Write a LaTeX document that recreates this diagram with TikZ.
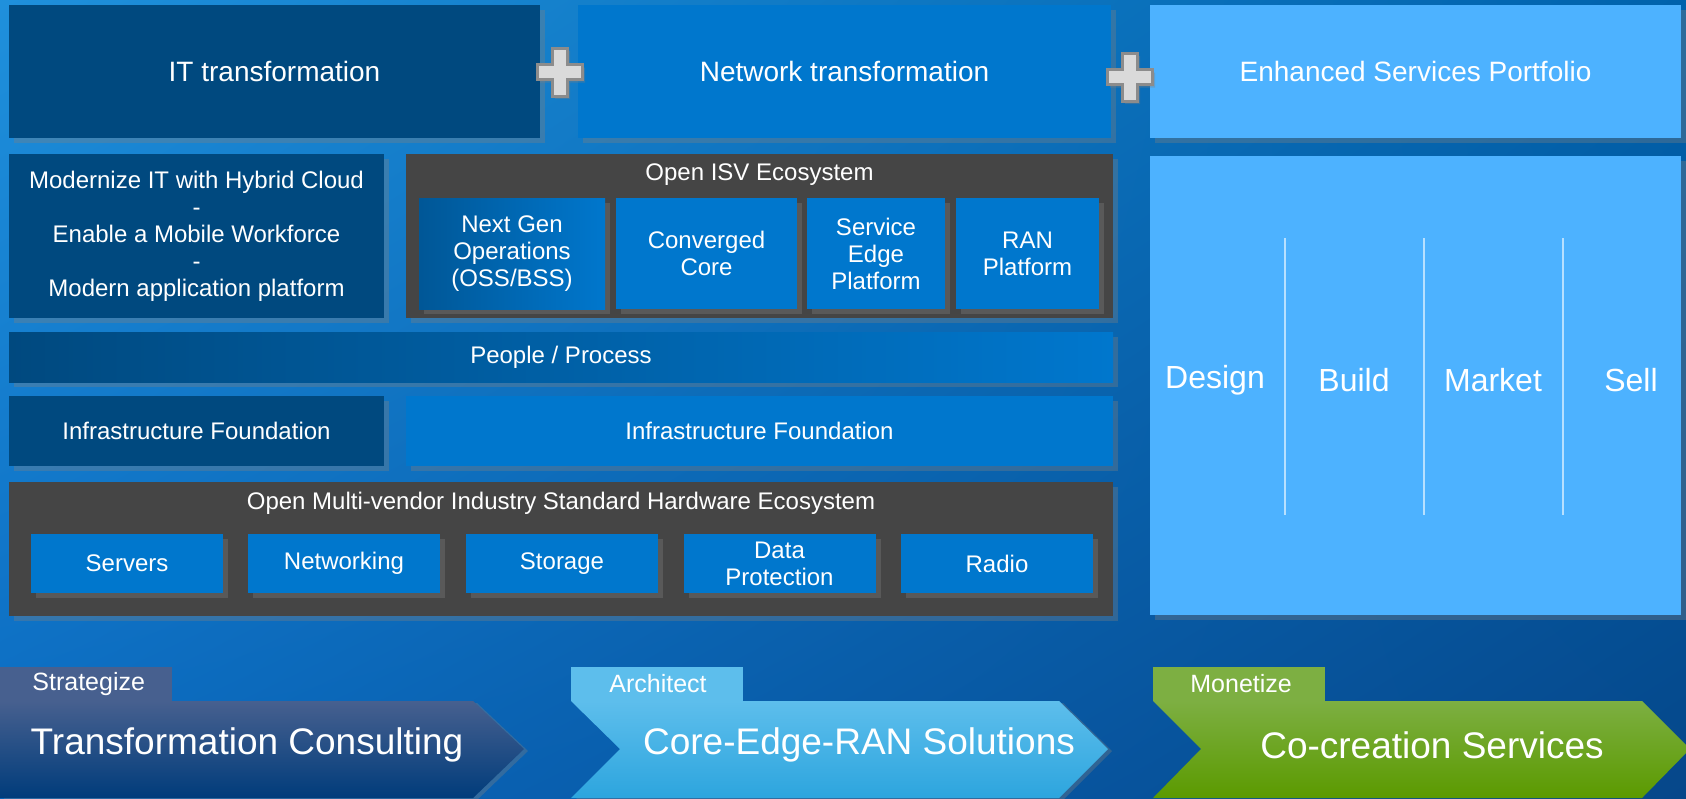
\documentclass[tikz,border=0pt]{standalone}
\usepackage{fontspec}
\setmainfont{Liberation Sans}
\usetikzlibrary{shadows,shadings}

\definecolor{navybox}{HTML}{00497F}
\definecolor{bluebox}{HTML}{0077CD}
\definecolor{skybox}{HTML}{4DB2FF}
\definecolor{greybox}{HTML}{454545}
\definecolor{plusfill}{HTML}{DADADA}
\definecolor{plusline}{HTML}{8C8C8C}
\definecolor{bgtl}{HTML}{1F90DC}
\definecolor{bgtr}{HTML}{0062AC}
\definecolor{bgbl}{HTML}{0A6AC0}
\definecolor{bgbr}{HTML}{06478A}
\definecolor{strattab}{HTML}{47608F}
\definecolor{stratlo}{HTML}{003C7B}
\definecolor{archtab}{HTML}{5DBEEC}
\definecolor{archlo}{HTML}{2DA5DE}
\definecolor{montab}{HTML}{7DAF42}
\definecolor{monlo}{HTML}{5B9A00}

\begin{document}
\begin{tikzpicture}[x=0.5pt, y=-0.5pt,
        box/.style={rectangle, inner sep=0pt, align=center, text=white,
                font=\fontsize{12}{13.5}\selectfont,
                drop shadow={shadow xshift=2.5pt, shadow yshift=-2.5pt, opacity=0.35}},
        header/.style={box, font=\fontsize{14}{16}\selectfont,
                minimum width=265.5pt, minimum height=66.5pt},
        isvitem/.style={box, fill=bluebox, minimum height=55.5pt},
        hwitem/.style={box, fill=bluebox, minimum width=96pt, minimum height=29.5pt},
        boxtitle/.style={inner sep=0pt, text=white, font=\fontsize{12}{13.5}\selectfont},
        phase/.style={inner sep=0pt, text=white, font=\fontsize{16}{18}\selectfont},
        tabtext/.style={inner sep=0pt, anchor=west, text=white, font=\fontsize{12.5}{14}\selectfont},
        arrowtext/.style={inner sep=0pt, text=white, font=\fontsize{18.5}{20}\selectfont},
        plussign/.pic={
                \path[fill=plusfill, draw=plusline, line width=1.5pt,
                        drop shadow={shadow xshift=1.5pt, shadow yshift=-1.5pt, opacity=0.35}]
                        (-7.5,-24) -- (7.5,-24) -- (7.5,-7.5) -- (22.5,-7.5) -- (22.5,7.5)
                        -- (7.5,7.5) -- (7.5,24) -- (-7.5,24) -- (-7.5,7.5) -- (-22.5,7.5)
                        -- (-22.5,-7.5) -- (-7.5,-7.5) -- cycle;
        }]
        \useasboundingbox (0,0) rectangle (1686,798);
        \shade[upper left=bgtl, upper right=bgtr, lower left=bgbl, lower right=bgbr]
                (0,0) rectangle (1686,798);

        % three transformations
        \node[header, fill=navybox] (it) at (274.5,71.5) {IT transformation};
        \node[header, fill=bluebox, minimum width=266.5pt] (net) at (844.5,71.5) {Network transformation};
        \node[header, fill=skybox] (esp) at (1415.5,71.5) {Enhanced Services Portfolio};
        \pic at (559.5,72) {plussign};
        \pic at (1129.5,77) {plussign};

        % IT column
        \node[box, fill=navybox, minimum width=187.5pt, minimum height=82pt] (modern) at (196.5,236)
                {Modernize IT with Hybrid Cloud\\-\\Enable a Mobile Workforce\\-\\Modern application platform};

        % ISV ecosystem
        \node[box, fill=greybox, minimum width=353.5pt, minimum height=82pt] (isv) at (759.5,236) {};
        \node[boxtitle] (isvtitle) at (759.5,175) {Open ISV Ecosystem};
        \node[isvitem, left color=navybox!70!bluebox, right color=bluebox, minimum width=93pt] (ngo) at (512,253.5)
                {Next Gen\\Operations\\(OSS/BSS)};
        \node[isvitem, minimum width=90.5pt] (conv) at (706.5,253.5) {Converged\\Core};
        \node[isvitem, minimum width=69pt] (sedge) at (876,253.5) {Service\\Edge\\Platform};
        \node[isvitem, minimum width=71.5pt] (ran) at (1027.5,253.5) {RAN\\Platform};

        % people and infrastructure
        \node[box, left color=navybox, middle color=bluebox, right color=bluebox,
                minimum width=552pt, minimum height=25pt] (people) at (561,357) {People / Process};
        \node[box, fill=navybox, minimum width=187.5pt, minimum height=35pt] (infraleft) at (196.5,431)
                {Infrastructure Foundation};
        \node[box, fill=bluebox, minimum width=353.5pt, minimum height=35pt] (infraright) at (759.5,431)
                {Infrastructure Foundation};

        % hardware ecosystem
        \node[box, fill=greybox, minimum width=552pt, minimum height=67pt] (hw) at (561,549) {};
        \node[boxtitle] (hwtitle) at (561,503) {Open Multi-vendor Industry Standard Hardware Ecosystem};
        \node[hwitem] (servers) at (127,563.5) {Servers};
        \node[hwitem] (networking) at (344,563.5) {Networking};
        \node[hwitem] (storage) at (562,563.5) {Storage};
        \node[hwitem] (dataprot) at (779.5,563.5) {Data\\Protection};
        \node[hwitem] (radio) at (997,563.5) {Radio};

        % services column
        \node[box, fill=skybox, minimum width=265.5pt, minimum height=229.5pt] (svc) at (1415.5,385.5) {};
        \foreach \x in {1285,1424,1563}
                \draw[white, opacity=0.6, line width=1pt] (\x,238) -- (\x,515);
        \node[phase] (design) at (1215,380) {Design};
        \node[phase] (build) at (1354,380) {Build};
        \node[phase] (market) at (1493,380) {Market};
        \node[phase] (sell) at (1631,380) {Sell};

        % phases along the bottom
        \fill[strattab] (0,667) rectangle (172,701);
        \path[top color=strattab, bottom color=stratlo,
                drop shadow={shadow xshift=2pt, shadow yshift=-1pt, opacity=0.35}]
                (0,701) -- (473,701) -- (524,749) -- (473,798) -- (0,798) -- cycle;
        \node[tabtext] (strat) at (32,684) {Strategize};
        \node[arrowtext] (tcons) at (247,745) {Transformation Consulting};

        \fill[archtab] (571,667) rectangle (743,701);
        \path[top color=archtab, bottom color=archlo,
                drop shadow={shadow xshift=2pt, shadow yshift=-1pt, opacity=0.35}]
                (571,701) -- (1059,701) -- (1108,749) -- (1059,798) -- (571,798) -- (620,749) -- cycle;
        \node[tabtext] (arch) at (609,684) {Architect};
        \node[arrowtext] (cers) at (859,745) {Core-Edge-RAN Solutions};

        \fill[montab] (1153,667) rectangle (1325,701);
        \path[top color=montab, bottom color=monlo]
                (1153,701) -- (1642,701) -- (1690,749) -- (1642,798) -- (1153,798) -- (1201,749) -- cycle;
        \node[tabtext] (mon) at (1190,684) {Monetize};
        \node[arrowtext] (cocre) at (1432,745) {Co-creation Services};
\end{tikzpicture}
\end{document}
